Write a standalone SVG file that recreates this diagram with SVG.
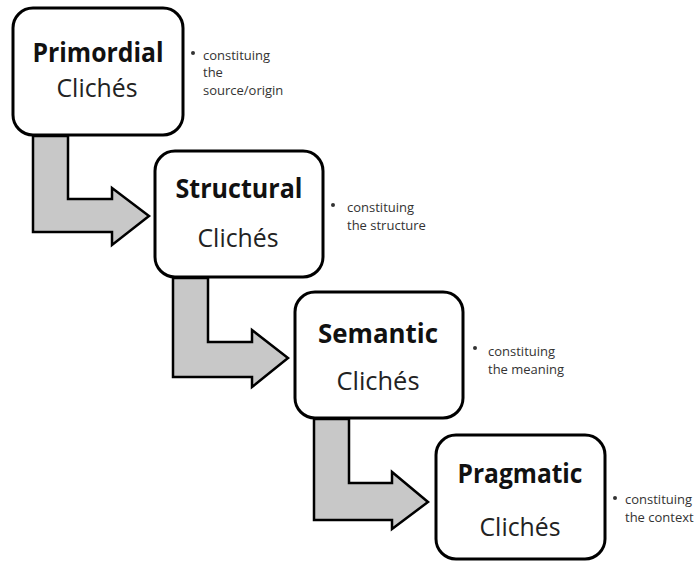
<svg xmlns="http://www.w3.org/2000/svg" width="700" height="561" viewBox="0 0 700 561">
<style>
.box{fill:#fff;stroke:#000;stroke-width:3}
.arrow{fill:#c8c8c8;stroke:#000;stroke-width:2.5;stroke-linejoin:miter}
.title{font-family:"Open Sans","Noto Sans",sans-serif;font-weight:bold;font-size:26px;fill:#111;text-anchor:middle}
.sub{font-family:"Open Sans","Noto Sans",sans-serif;font-size:26px;fill:#222;text-anchor:middle}
.note{font-family:"Open Sans","Noto Sans",sans-serif;font-size:13px;fill:#333}
.bullet{fill:#333}
</style>
<rect width="700" height="561" fill="#fff"/>
<g id="connectors">
<path class="arrow" d="M33,136 V232 H112 V245 L149,216 L112,188 V199 H68 V136 Z"/>
<path class="arrow" d="M173,278 V377 H252 V387 L288,358 L252,330 V342 H208 V278 Z"/>
<path class="arrow" d="M314,419 V520 H392 V529 L428,502 L392,472 V483 H349 V419 Z"/>
</g>
<g id="primordial">
<rect class="box" x="13" y="8" width="170" height="127" rx="20"/>
<text class="title" x="98" y="62" textLength="131" lengthAdjust="spacingAndGlyphs">Primordial</text>
<text class="sub" x="97" y="97" textLength="81" lengthAdjust="spacingAndGlyphs">Clichés</text>
<circle class="bullet" cx="193" cy="53" r="2"/>
<text class="note" x="203" y="60">constituing</text>
<text class="note" x="203" y="77">the</text>
<text class="note" x="203" y="95">source/origin</text>
</g>
<g id="structural">
<rect class="box" x="155" y="151" width="168" height="126" rx="20"/>
<text class="title" x="239" y="198" textLength="127" lengthAdjust="spacingAndGlyphs">Structural</text>
<text class="sub" x="238" y="247" textLength="81" lengthAdjust="spacingAndGlyphs">Clichés</text>
<circle class="bullet" cx="333" cy="205" r="2"/>
<text class="note" x="347" y="212">constituing</text>
<text class="note" x="347" y="230">the structure</text>
</g>
<g id="semantic">
<rect class="box" x="295" y="292" width="168" height="126" rx="20"/>
<text class="title" x="378" y="343" textLength="120" lengthAdjust="spacingAndGlyphs">Semantic</text>
<text class="sub" x="378" y="390" textLength="83" lengthAdjust="spacingAndGlyphs">Clichés</text>
<circle class="bullet" cx="475" cy="348" r="2"/>
<text class="note" x="488" y="356">constituing</text>
<text class="note" x="488" y="374">the meaning</text>
</g>
<g id="pragmatic">
<rect class="box" x="436" y="435" width="169" height="124" rx="20"/>
<text class="title" x="520" y="483" textLength="125" lengthAdjust="spacingAndGlyphs">Pragmatic</text>
<text class="sub" x="520" y="536" textLength="81" lengthAdjust="spacingAndGlyphs">Clichés</text>
<circle class="bullet" cx="615" cy="498" r="2"/>
<text class="note" x="625" y="504">constituing</text>
<text class="note" x="625" y="522">the context</text>
</g>
</svg>
